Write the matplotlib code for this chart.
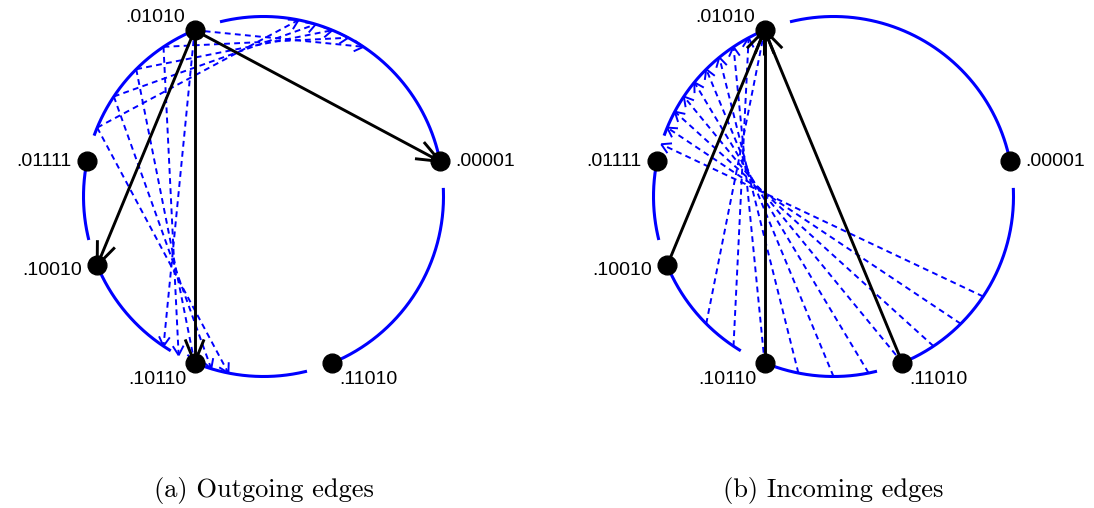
import numpy as np
import matplotlib.pyplot as plt

# 5-bit identifier ring, positions are fractions id / 32
RING = 32
node_ids = [1, 10, 15, 18, 22, 26]
node_labels = [".00001", ".01010", ".01111", ".10010", ".10110", ".11010"]
owner_id = 10  # .01010

# sampled points of the owner's segment (outgoing) and of the ring (incoming)
out_points = [10, 11, 12, 13, 14]
in_points = [20, 21, 22, 23, 24, 25, 26, 27, 28, 29]

captions = ["(a) Outgoing edges", "(b) Incoming edges"]

# label placement per node: (dx, dy) in points, ha, va
label_style = [
    (11, 0, "left", "center"),
    (-7, 3, "right", "bottom"),
    (-11, 0, "right", "center"),
    (-11, -4, "right", "center"),
    (-6, -6, "right", "top"),
    (5, -6, "left", "top"),
]

BLUE = "#0000ff"
GAP = 0.8  # ids left blank before the next node


def pos(i):
    a = 2 * np.pi * i / RING
    return np.array([np.cos(a), np.sin(a)])


def owner(p):
    p = p % RING
    below = [n for n in node_ids if n <= p]
    return max(below) if below else max(node_ids)


def draw_arrow(ax, p, q, color, lw, ls, head, spread, z):
    ax.plot([p[0], q[0]], [p[1], q[1]], color=color, lw=lw, ls=ls,
            solid_capstyle="butt", zorder=z)
    d = (p - q) / np.hypot(*(p - q))
    for s in (spread, -spread):
        c, sn = np.cos(s), np.sin(s)
        b = np.array([c * d[0] - sn * d[1], sn * d[0] + c * d[1]]) * head
        ax.plot([q[0], q[0] + b[0]], [q[1], q[1] + b[1]], color=color, lw=lw,
                solid_capstyle="butt", zorder=z)


def draw_ring(ax):
    ids = sorted(node_ids)
    for k, n in enumerate(ids):
        nxt = ids[(k + 1) % len(ids)]
        if nxt <= n:
            nxt += RING
        t = np.linspace(n, nxt - GAP, 200)
        a = 2 * np.pi * t / RING
        ax.plot(np.cos(a), np.sin(a), color=BLUE, lw=2.2, zorder=1)
    for n, lab, (dx, dy, ha, va) in zip(node_ids, node_labels, label_style):
        p = pos(n)
        ax.plot(p[0], p[1], "o", color="black", ms=13.5, zorder=5)
        ax.annotate(lab, p, xytext=(dx, dy), textcoords="offset points",
                    ha=ha, va=va, fontsize=14, family="Liberation Sans")


dash = (0, (3.0, 2.2))
fig = plt.figure(figsize=(10.94, 5.08), dpi=100)
R = 180.0  # ring radius in pixels
centers = [(263.5, 311.5), (833.5, 311.5)]
axes = []
for cx, cy in centers:
    ax = fig.add_axes([(cx - 260) / 1094, (cy - 200) / 508, 520 / 1094, 400 / 508])
    ax.set_xlim(-260 / R, 260 / R)
    ax.set_ylim(-200 / R, 200 / R)
    ax.axis("off")
    axes.append(ax)

# (a) outgoing: x -> x/2 and (x+1)/2
ax = axes[0]
draw_ring(ax)
out_owners = set()
for x in out_points:
    for t in (x / 2, (x + RING) / 2):
        draw_arrow(ax, pos(x), pos(t), BLUE, 1.4, dash, 0.06, np.radians(30), 2)
        out_owners.add(owner(t))
for n in sorted(out_owners):
    draw_arrow(ax, pos(owner_id), pos(n), "black", 2.1, "-", 0.14, np.radians(22), 3)

# (b) incoming: y -> y/2 landing in the owner's segment
ax = axes[1]
draw_ring(ax)
in_owners = set()
for y in in_points:
    draw_arrow(ax, pos(y), pos(y / 2), BLUE, 1.4, dash, 0.06, np.radians(30), 2)
    in_owners.add(owner(y))
for n in sorted(in_owners):
    draw_arrow(ax, pos(n), pos(owner_id), "black", 2.1, "-", 0.14, np.radians(22), 3)

for (cx, cy), cap in zip(centers, captions):
    fig.text(cx / 1094, 18 / 508, cap, ha="center", va="center",
             fontsize=19, family="cmr10")

fig.savefig("out.png", dpi=100)
